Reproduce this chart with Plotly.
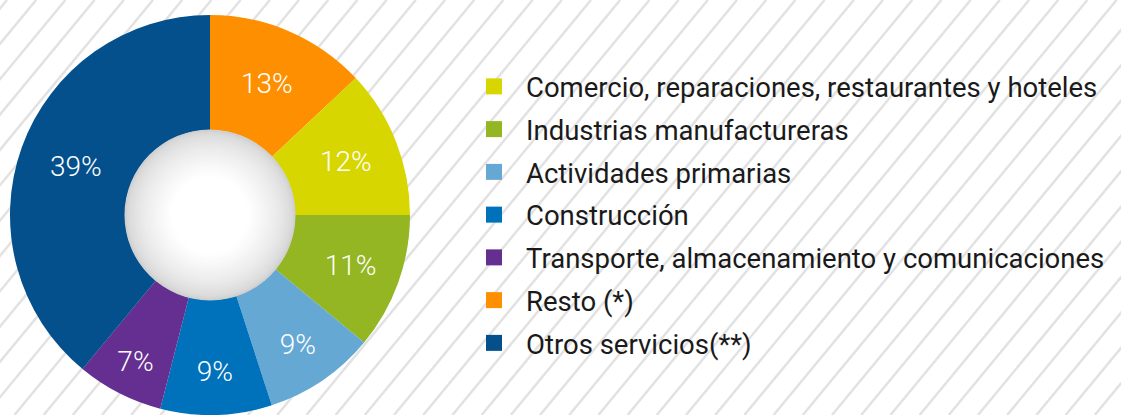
import plotly.graph_objects as go

W, H = 1121, 415

# ---- data ----
slice_labels = [
    "Resto (*)",
    "Comercio, reparaciones, restaurantes y hoteles",
    "Industrias manufactureras",
    "Actividades primarias",
    "Construcción",
    "Transporte, almacenamiento y comunicaciones",
    "Otros servicios(**)",
]
slice_values = [13, 12, 11, 9, 9, 7, 39]
slice_colors = ["#FD8F00", "#D8D600", "#93B622", "#66A8D4", "#0071BB", "#642F90", "#04508C"]

legend_order = [
    "Comercio, reparaciones, restaurantes y hoteles",
    "Industrias manufactureras",
    "Actividades primarias",
    "Construcción",
    "Transporte, almacenamiento y comunicaciones",
    "Resto (*)",
    "Otros servicios(**)",
]

color_of = dict(zip(slice_labels, slice_colors))


def px_x(v):
    return v / W


def px_y(v):
    return 1 - v / H


fig = go.Figure()

# pie geometry (pixels)
cx, R = 210, 200
hole = 0.425

fig.add_trace(go.Pie(
    labels=slice_labels,
    values=slice_values,
    marker=dict(colors=slice_colors, line=dict(width=0)),
    sort=False,
    direction="clockwise",
    rotation=0,
    hole=hole,
    textinfo="percent",
    textposition="inside",
    insidetextorientation="horizontal",
    textfont=dict(family="Roboto", size=28, color="white", weight=300),
    showlegend=False,
    hoverinfo="label+percent",
    domain=dict(x=[px_x(cx - R), px_x(cx + R)], y=[0, 2 * R / H]),
))

# legend entries in the reference's order
for name in legend_order:
    fig.add_trace(go.Scatter(
        x=[None], y=[None], mode="markers", name=name, legendgroup=name,
        marker=dict(symbol="square", size=17, color=color_of[name]),
        hoverinfo="skip",
    ))

shapes = []
# diagonal hatch background
spacing, slope, x_phase = 29.2, 1.21, 7.0
shift = H / slope
k = 0
while True:
    xt = x_phase + spacing * (k - 1)
    if xt - shift > W:
        break
    shapes.append(dict(
        type="line", xref="paper", yref="paper", layer="below",
        x0=px_x(xt), y0=px_y(0), x1=px_x(xt - shift), y1=px_y(H),
        line=dict(color="#E2E2E2", width=2.5),
    ))
    k += 1

# radial shading inside the donut hole
cy = H - R
rh = R * hole
steps = 24
for i in range(steps):
    t = i / (steps - 1)
    r = rh + 0.5 - t * (rh * 0.55)
    g = int(round(208 + (255 - 208) * (t ** 0.6)))
    col = f"rgb({g},{g},{g})"
    shapes.append(dict(
        type="circle", xref="paper", yref="paper", layer="above",
        x0=px_x(cx - r), x1=px_x(cx + r), y0=px_y(cy + r), y1=px_y(cy - r),
        fillcolor=col, line=dict(width=0),
    ))

fig.update_layout(
    width=W, height=H,
    margin=dict(l=0, r=0, t=0, b=0, autoexpand=False),
    paper_bgcolor="white",
    plot_bgcolor="rgba(0,0,0,0)",
    xaxis=dict(visible=False),
    yaxis=dict(visible=False),
    shapes=shapes,
    showlegend=True,
    legend=dict(
        x=px_x(462), y=px_y(62), xanchor="left", yanchor="top",
        font=dict(family="Roboto", size=27.5, color="#1A1A1A"),
        tracegroupgap=4,
        itemwidth=54,
        bgcolor="rgba(0,0,0,0)",
        itemclick=False, itemdoubleclick=False,
    ),
)

fig.write_html(
    "out.html",
    config={"displayModeBar": False},
    post_script="document.body.style.margin='0';document.body.style.padding='0';",
)
